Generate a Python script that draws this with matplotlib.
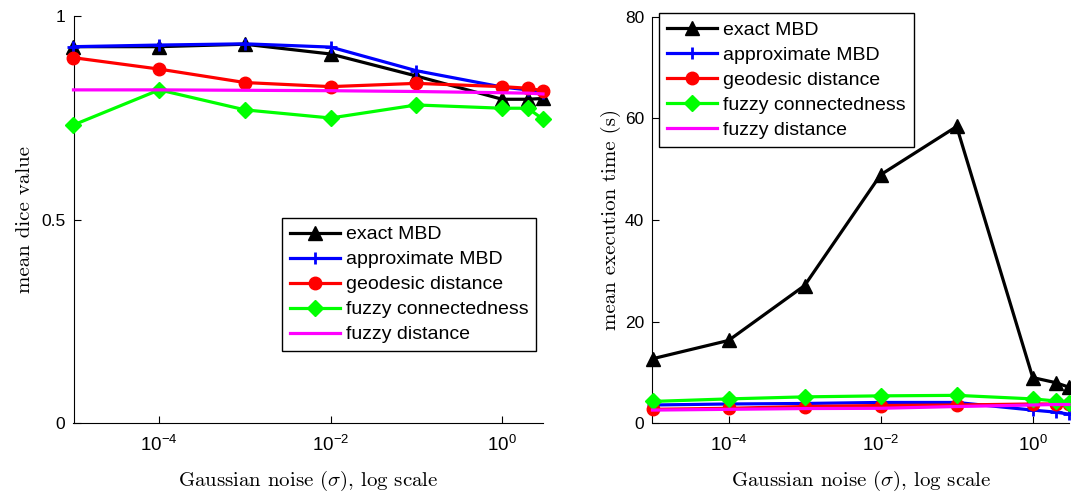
import matplotlib
matplotlib.use("Agg")
import matplotlib.pyplot as plt
import numpy as np

plt.rcParams["font.family"] = ["Liberation Sans", "DejaVu Sans"]
plt.rcParams["mathtext.fontset"] = "custom"
plt.rcParams["mathtext.rm"] = "Liberation Sans"
plt.rcParams["mathtext.it"] = "Liberation Sans:italic"
plt.rcParams["mathtext.bf"] = "Liberation Sans:bold"
plt.rcParams["axes.unicode_minus"] = False

# noise levels (sigma)
sigma = [1e-5, 1e-4, 1e-3, 1e-2, 1e-1, 1.0, 2.0, 3.0]

# mean dice value
dice_exact = [0.924, 0.924, 0.930, 0.906, 0.852, 0.795, 0.795, 0.797]
dice_approx = [0.924, 0.928, 0.931, 0.923, 0.865, 0.825, 0.818, 0.810]
dice_geo = [0.897, 0.869, 0.836, 0.826, 0.834, 0.826, 0.822, 0.816]
dice_fc = [0.732, 0.818, 0.769, 0.749, 0.781, 0.773, 0.773, 0.746]
dice_fd = [0.818, 0.818, 0.817, 0.816, 0.814, 0.811, 0.810, 0.808]

# mean execution time (s)
time_exact = [12.7, 16.3, 27.1, 48.9, 58.4, 9.0, 8.0, 7.1]
time_approx = [3.6, 3.8, 3.9, 4.1, 4.1, 2.6, 2.2, 1.8]
time_geo = [2.75, 2.95, 3.3, 3.5, 3.6, 3.8, 3.8, 3.8]
time_fc = [4.3, 4.8, 5.2, 5.4, 5.5, 4.8, 4.4, 3.9]
time_fd = [2.6, 2.75, 2.9, 2.95, 3.3, 3.6, 3.7, 3.7]

labels = ["exact MBD", "approximate MBD", "geodesic distance",
          "fuzzy connectedness", "fuzzy distance"]
xtick_vals = [1e-4, 1e-2, 1]
xtick_labels = [r"$10^{-4}$", r"$10^{-2}$", r"$10^{0}$"]

styles = [("k", "^", 10), ("b", "+", 8), ("r", "o", 9), ((0, 1, 0), "D", 8), ((1, 0, 1), None, 0)]

# axis titles in Computer Modern, like a LaTeX interpreter would give
tex = dict(fontfamily="cmr10", math_fontfamily="cm", fontsize=15)


def draw(ax, series):
    for vals, lab, (col, mk, ms) in zip(series, labels, styles):
        ax.plot(sigma, vals, color=col, marker=mk, markersize=ms, lw=2.3,
                mew=2 if mk == "+" else 1, label=lab, clip_on=False, zorder=3)
    ax.set_xscale("log")
    ax.set_xlim(1e-5, 3)
    ax.set_xticks(xtick_vals)
    ax.set_xticklabels(xtick_labels)
    ax.minorticks_off()
    ax.tick_params(direction="in", length=5, labelsize=12.5, pad=6)
    ax.tick_params(axis="x", pad=8, labelsize=13.5)
    for s in ("top", "right"):
        ax.spines[s].set_visible(False)
    ax.set_xlabel(r"Gaussian noise ($\sigma$), log scale", labelpad=10, **tex)


fig = plt.figure(figsize=(10.71, 4.92), dpi=100)
ax1 = fig.add_axes([73.5 / 1071, 68.7 / 492, 469.5 / 1071, 407.6 / 492])
ax2 = fig.add_axes([652.5 / 1071, 68.7 / 492, 416.5 / 1071, 406.6 / 492])

draw(ax1, [dice_exact, dice_approx, dice_geo, dice_fc, dice_fd])
ax1.set_ylim(0, 1)
ax1.set_yticks([0, 0.5, 1])
ax1.set_yticklabels(["0", "0.5", "1"])
ax1.set_ylabel("mean dice value", labelpad=5, **tex)

draw(ax2, [time_exact, time_approx, time_geo, time_fc, time_fd])
ax2.set_ylim(0, 80)
ax2.set_yticks([0, 20, 40, 60, 80])
ax2.set_ylabel("mean execution time (s)", labelpad=3, **tex)

legend_kw = dict(fontsize=14, fancybox=False, framealpha=1, edgecolor="k",
                 handlelength=2.6, handletextpad=0.3, borderpad=0.4,
                 labelspacing=0.38, borderaxespad=0, numpoints=1)
leg1 = ax1.legend(loc="lower left", bbox_to_anchor=(0.4435, 0.177), **legend_kw)
leg2 = ax2.legend(loc="upper left", bbox_to_anchor=(0.0156, 1.008), **legend_kw)
for leg in (leg1, leg2):
    leg.get_frame().set_linewidth(1.0)

fig.savefig("out.png", dpi=100)
